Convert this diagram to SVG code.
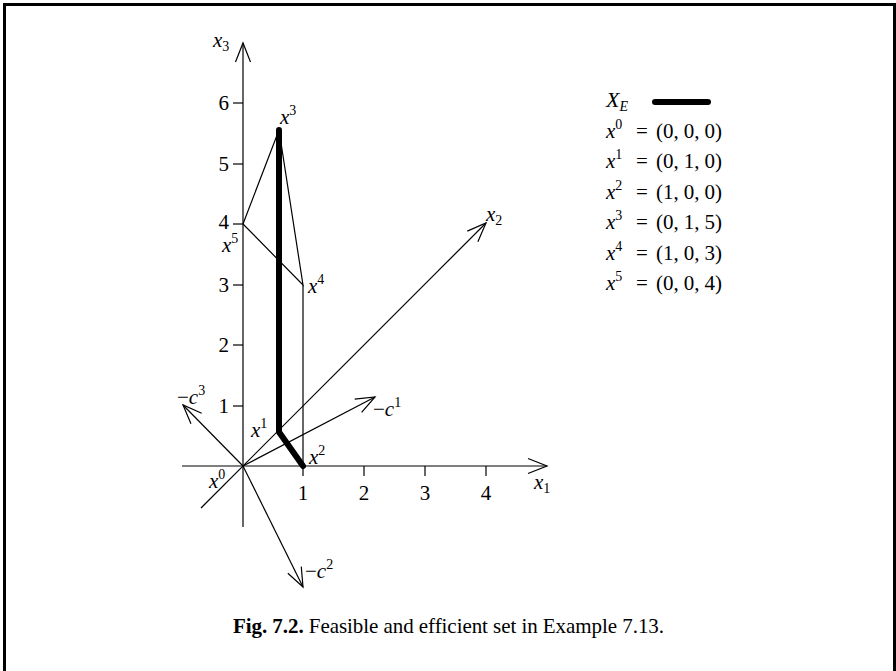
<svg xmlns="http://www.w3.org/2000/svg" width="896" height="671" viewBox="0 0 896 671">
<defs>
<style>
text{font-family:"Liberation Serif","Times New Roman",serif;font-size:21px;fill:#000}
.i{font-style:italic}
.s{font-size:14px}
.thin{stroke:#000;stroke-width:1.2;fill:none}
.tick{stroke:#000;stroke-width:1.2}
.thick{stroke:#000;stroke-width:6;fill:none;stroke-linecap:round;stroke-linejoin:round}
</style>
<marker id="ar" markerUnits="userSpaceOnUse" markerWidth="30" markerHeight="30" viewBox="-25 -15 30 30" refX="0" refY="0" orient="auto">
<path d="M-19,-7.5 L0,0 L-19,7.5" fill="none" stroke="#000" stroke-width="1.2"/>
</marker>
</defs>
<rect x="0" y="0" width="896" height="671" fill="#fff"/>
<rect x="4.5" y="4.5" width="890" height="720" fill="none" stroke="#000" stroke-width="3"/>

<g id="axes">
<line class="thin" x1="182" y1="466" x2="547" y2="466" marker-end="url(#ar)"/>
<line class="thin" x1="243" y1="527" x2="243" y2="43" marker-end="url(#ar)"/>
<line class="thin" x1="201" y1="508" x2="486" y2="223" marker-end="url(#ar)"/>
<line class="tick" x1="233" y1="406" x2="243" y2="406"/>
<line class="tick" x1="233" y1="345" x2="243" y2="345"/>
<line class="tick" x1="233" y1="285" x2="243" y2="285"/>
<line class="tick" x1="233" y1="224" x2="243" y2="224"/>
<line class="tick" x1="233" y1="164" x2="243" y2="164"/>
<line class="tick" x1="233" y1="103" x2="243" y2="103"/>
<line class="tick" x1="303" y1="466" x2="303" y2="476"/>
<line class="tick" x1="364" y1="466" x2="364" y2="476"/>
<line class="tick" x1="425" y1="466" x2="425" y2="476"/>
<line class="tick" x1="486" y1="466" x2="486" y2="476"/>
<text x="229" y="413" text-anchor="end">1</text>
<text x="229" y="352" text-anchor="end">2</text>
<text x="229" y="292" text-anchor="end">3</text>
<text x="229" y="229" text-anchor="end">4</text>
<text x="229" y="171" text-anchor="end">5</text>
<text x="229" y="110" text-anchor="end">6</text>
<text x="303" y="500" text-anchor="middle">1</text>
<text x="364" y="500" text-anchor="middle">2</text>
<text x="425" y="500" text-anchor="middle">3</text>
<text x="486" y="500" text-anchor="middle">4</text>
<text x="213" y="47"><tspan class="i">x</tspan><tspan class="s" dy="4">3</tspan></text>
<text x="534" y="489"><tspan class="i">x</tspan><tspan class="s" dy="4">1</tspan></text>
<text x="486" y="221"><tspan class="i">x</tspan><tspan class="s" dy="4">2</tspan></text>
</g>

<g id="connectors">
<line class="thin" x1="243" y1="466" x2="375" y2="397" marker-end="url(#ar)"/>
<line class="thin" x1="243" y1="466" x2="303" y2="587" marker-end="url(#ar)"/>
<line class="thin" x1="243" y1="466" x2="183" y2="405" marker-end="url(#ar)"/>
<polyline class="thin" points="243,224 279,130 303,285 243,224"/>
<line class="thin" x1="303" y1="285" x2="303" y2="466"/>
<polyline class="thick" points="279,130 279,432 303,466"/>
</g>

<g id="labels">
<text x="280" y="124"><tspan class="i">x</tspan><tspan class="s" dy="-9">3</tspan></text>
<text x="222" y="252"><tspan class="i">x</tspan><tspan class="s" dy="-9">5</tspan></text>
<text x="308" y="293"><tspan class="i">x</tspan><tspan class="s" dy="-9">4</tspan></text>
<text x="251" y="437"><tspan class="i">x</tspan><tspan class="s" dy="-9">1</tspan></text>
<text x="309" y="464"><tspan class="i">x</tspan><tspan class="s" dy="-9">2</tspan></text>
<text x="209" y="488"><tspan class="i">x</tspan><tspan class="s" dy="-9">0</tspan></text>
<text x="177" y="404">−<tspan class="i">c</tspan><tspan class="s" dy="-9">3</tspan></text>
<text x="373" y="416">−<tspan class="i">c</tspan><tspan class="s" dy="-9">1</tspan></text>
<text x="305" y="578">−<tspan class="i">c</tspan><tspan class="s" dy="-9">2</tspan></text>
</g>

<g id="legend">
<text x="606" y="107"><tspan class="i" font-size="22">X</tspan><tspan class="s i" dy="4">E</tspan></text>
<line x1="655" y1="102" x2="708" y2="102" stroke="#000" stroke-width="6" stroke-linecap="round"/>
<g id="row0"><text x="606" y="138"><tspan class="i">x</tspan><tspan class="s" dy="-9">0</tspan></text><text x="636" y="138">=</text><text x="656" y="138" textLength="66" lengthAdjust="spacing">(0, 0, 0)</text></g>
<g id="row1"><text x="606" y="168"><tspan class="i">x</tspan><tspan class="s" dy="-9">1</tspan></text><text x="636" y="168">=</text><text x="656" y="168" textLength="66" lengthAdjust="spacing">(0, 1, 0)</text></g>
<g id="row2"><text x="606" y="199"><tspan class="i">x</tspan><tspan class="s" dy="-9">2</tspan></text><text x="636" y="199">=</text><text x="656" y="199" textLength="66" lengthAdjust="spacing">(1, 0, 0)</text></g>
<g id="row3"><text x="606" y="229"><tspan class="i">x</tspan><tspan class="s" dy="-9">3</tspan></text><text x="636" y="229">=</text><text x="656" y="229" textLength="66" lengthAdjust="spacing">(0, 1, 5)</text></g>
<g id="row4"><text x="606" y="260"><tspan class="i">x</tspan><tspan class="s" dy="-9">4</tspan></text><text x="636" y="260">=</text><text x="656" y="260" textLength="66" lengthAdjust="spacing">(1, 0, 3)</text></g>
<g id="row5"><text x="606" y="290"><tspan class="i">x</tspan><tspan class="s" dy="-9">5</tspan></text><text x="636" y="290">=</text><text x="656" y="290" textLength="66" lengthAdjust="spacing">(0, 0, 4)</text></g>
</g>

<text x="233" y="633" textLength="431" lengthAdjust="spacing" font-size="19"><tspan font-weight="bold">Fig. 7.2.</tspan> Feasible and efficient set in Example 7.13.</text>
</svg>
